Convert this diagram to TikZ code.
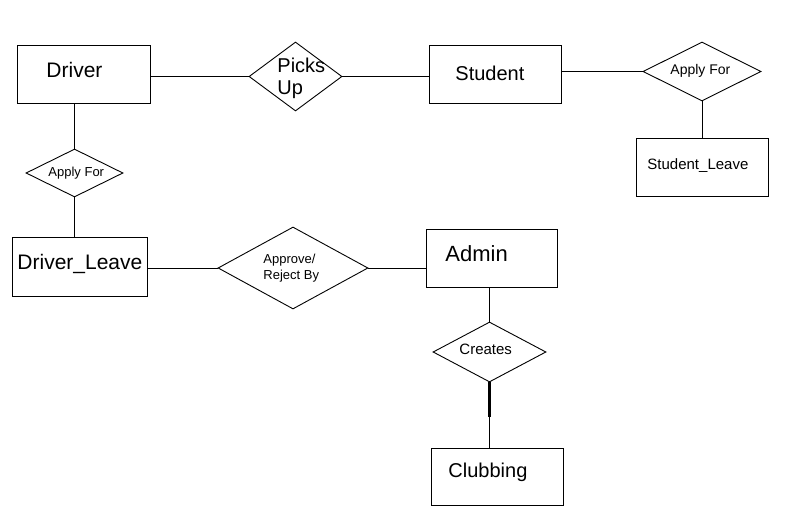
\documentclass[tikz,border=0pt]{standalone}
\usepackage{fontspec}
\setmainfont{Liberation Sans}
\usetikzlibrary{shapes.geometric}

\begin{document}
\begin{tikzpicture}[x=1pt,y=-1pt,line width=0.9pt]
\tikzstyle{every node}+=[inner sep=0pt]
\tikzstyle{entity}=[draw,rectangle]
\tikzstyle{relation}=[draw,diamond]
\tikzstyle{txt}=[anchor=base west]
\useasboundingbox (0,0) rectangle (795,518);
\node [entity,minimum width=133,minimum height=58] (driver) at (83.5,74) {};
\node [txt,font=\fontsize{21}{25}\selectfont] (driverText) at (46,78) {Driver};
\node [relation,minimum width=93,minimum height=69] (picks) at (295.5,76.5) {};
\node [txt,font=\fontsize{20}{22}\selectfont,align=left] (picksText) at (277,95) {Picks\\Up};
\node [entity,minimum width=132,minimum height=58] (student) at (495.5,74) {};
\node [txt,font=\fontsize{20}{24}\selectfont] (studentText) at (455,81) {Student};
\node [relation,minimum width=118,minimum height=59] (applyS) at (702,71.5) {};
\node [txt,font=\fontsize{14}{17}\selectfont] (applySText) at (670,75) {Apply For};
\node [entity,minimum width=132,minimum height=58] (studentLeave) at (702,167) {};
\node [txt,font=\fontsize{15}{18}\selectfont] (studentLeaveText) at (647,170) {Student\_Leave};
\node [relation,minimum width=97,minimum height=48] (applyD) at (74.5,173) {};
\node [txt,font=\fontsize{13}{16}\selectfont] (applyDText) at (48,177) {Apply For};
\node [entity,minimum width=135,minimum height=59] (driverLeave) at (79.5,266.5) {};
\node [txt,font=\fontsize{21}{25}\selectfont] (driverLeaveText) at (17,270) {Driver\_Leave};
\node [relation,minimum width=150,minimum height=82] (approve) at (293,268) {};
\node [txt,font=\fontsize{13}{16}\selectfont,align=left] (approveText) at (263,280) {Approve/\\Reject By};
\node [entity,minimum width=131,minimum height=58] (admin) at (491.5,258) {};
\node [txt,font=\fontsize{22}{26}\selectfont] (adminText) at (445,261.5) {Admin};
\node [relation,minimum width=113,minimum height=60] (creates) at (489.5,352) {};
\node [txt,font=\fontsize{15}{18}\selectfont] (createsText) at (459,355) {Creates};
\node [entity,minimum width=132,minimum height=57] (clubbing) at (497,476.5) {};
\node [txt,font=\fontsize{20}{24}\selectfont] (clubbingText) at (448,477) {Clubbing};
\coordinate (thickEnd) at (489.5,417);
\draw (driver.east |- picks.west) -- (picks.west);
\draw (picks.east) -- (picks.east -| student.west);
\draw (student.east |- applyS.west) -- (applyS.west);
\draw (applyS.south) -- (applyS.south |- studentLeave.north);
\draw (applyD.north |- driver.south) -- (applyD.north);
\draw (applyD.south) -- (applyD.south |- driverLeave.north);
\draw (driverLeave.east |- approve.west) -- (approve.west);
\draw (approve.east) -- (approve.east -| admin.west);
\draw (creates.north |- admin.south) -- (creates.north);
\draw (creates.south) -- (creates.south |- clubbing.north);
\draw [line width=2.4pt] (creates.south) -- (thickEnd);
\end{tikzpicture}
\end{document}
